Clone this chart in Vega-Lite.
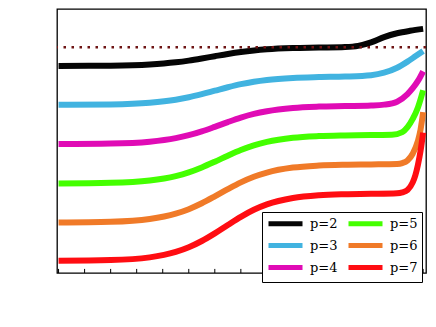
{"autosize":{"type":"none"},"width":369,"height":264,"padding":{"left":57,"top":9,"right":10,"bottom":54},"background":"white",
"config":{"view":{"stroke":"black","strokeWidth":1.3},"font":"DejaVu Serif"},
"datasets":{"curves":[
{"N":-14,"w":-1.638,"p":"p=2"},{"N":-12,"w":-1.627,"p":"p=2"},{"N":-10.5,"w":-1.587,"p":"p=2"},{"N":-9.5,"w":-1.513,"p":"p=2"},{"N":-9,"w":-1.455,"p":"p=2"},{"N":-8.5,"w":-1.383,"p":"p=2"},{"N":-8,"w":-1.304,"p":"p=2"},{"N":-7.5,"w":-1.227,"p":"p=2"},{"N":-7,"w":-1.16,"p":"p=2"},{"N":-6.5,"w":-1.108,"p":"p=2"},{"N":-6,"w":-1.07,"p":"p=2"},{"N":-5,"w":-1.028,"p":"p=2"},{"N":-4,"w":-1.01,"p":"p=2"},{"N":-3,"w":-0.99,"p":"p=2"},{"N":-2.5,"w":-0.95,"p":"p=2"},{"N":-2,"w":-0.83,"p":"p=2"},{"N":-1.5,"w":-0.65,"p":"p=2"},{"N":-1,"w":-0.52,"p":"p=2"},{"N":-0.5,"w":-0.435,"p":"p=2"},{"N":0,"w":-0.37,"p":"p=2"},
{"N":-14,"w":-2.968,"p":"p=3"},{"N":-12,"w":-2.953,"p":"p=3"},{"N":-10.5,"w":-2.896,"p":"p=3"},{"N":-9.5,"w":-2.793,"p":"p=3"},{"N":-9,"w":-2.709,"p":"p=3"},{"N":-8.5,"w":-2.603,"p":"p=3"},{"N":-8,"w":-2.485,"p":"p=3"},{"N":-7.5,"w":-2.367,"p":"p=3"},{"N":-7,"w":-2.261,"p":"p=3"},{"N":-6.5,"w":-2.177,"p":"p=3"},{"N":-6,"w":-2.115,"p":"p=3"},{"N":-5,"w":-2.046,"p":"p=3"},{"N":-4,"w":-2.017,"p":"p=3"},{"N":-3,"w":-2.0,"p":"p=3"},{"N":-2,"w":-1.955,"p":"p=3"},{"N":-1.5,"w":-1.87,"p":"p=3"},{"N":-1,"w":-1.7,"p":"p=3"},{"N":-0.6,"w":-1.49,"p":"p=3"},{"N":-0.3,"w":-1.31,"p":"p=3"},{"N":0,"w":-1.13,"p":"p=3"},
{"N":-14,"w":-4.307,"p":"p=4"},{"N":-12,"w":-4.29,"p":"p=4"},{"N":-10.5,"w":-4.227,"p":"p=4"},{"N":-9.5,"w":-4.108,"p":"p=4"},{"N":-9,"w":-4.007,"p":"p=4"},{"N":-8.5,"w":-3.875,"p":"p=4"},{"N":-8,"w":-3.72,"p":"p=4"},{"N":-7.5,"w":-3.558,"p":"p=4"},{"N":-7,"w":-3.406,"p":"p=4"},{"N":-6.5,"w":-3.28,"p":"p=4"},{"N":-6,"w":-3.186,"p":"p=4"},{"N":-5,"w":-3.075,"p":"p=4"},{"N":-4,"w":-3.029,"p":"p=4"},{"N":-3,"w":-3.01,"p":"p=4"},{"N":-2,"w":-2.99,"p":"p=4"},{"N":-1.5,"w":-2.96,"p":"p=4"},{"N":-1,"w":-2.86,"p":"p=4"},{"N":-0.6,"w":-2.6,"p":"p=4"},{"N":-0.4,"w":-2.4,"p":"p=4"},{"N":-0.2,"w":-2.15,"p":"p=4"},{"N":0,"w":-1.82,"p":"p=4"},
{"N":-14,"w":-5.657,"p":"p=5"},{"N":-12,"w":-5.635,"p":"p=5"},{"N":-10.5,"w":-5.555,"p":"p=5"},{"N":-9.5,"w":-5.404,"p":"p=5"},{"N":-9,"w":-5.277,"p":"p=5"},{"N":-8.5,"w":-5.109,"p":"p=5"},{"N":-8,"w":-4.913,"p":"p=5"},{"N":-7.5,"w":-4.707,"p":"p=5"},{"N":-7,"w":-4.515,"p":"p=5"},{"N":-6.5,"w":-4.355,"p":"p=5"},{"N":-6,"w":-4.236,"p":"p=5"},{"N":-5,"w":-4.095,"p":"p=5"},{"N":-4,"w":-4.037,"p":"p=5"},{"N":-3,"w":-4.013,"p":"p=5"},{"N":-2,"w":-4.0,"p":"p=5"},{"N":-1.2,"w":-3.99,"p":"p=5"},{"N":-0.8,"w":-3.9,"p":"p=5"},{"N":-0.6,"w":-3.73,"p":"p=5"},{"N":-0.4,"w":-3.45,"p":"p=5"},{"N":-0.2,"w":-3.06,"p":"p=5"},{"N":-0.1,"w":-2.78,"p":"p=5"},{"N":0,"w":-2.47,"p":"p=5"},
{"N":-14,"w":-6.996,"p":"p=6"},{"N":-12,"w":-6.97,"p":"p=6"},{"N":-10.5,"w":-6.874,"p":"p=6"},{"N":-9.5,"w":-6.692,"p":"p=6"},{"N":-9,"w":-6.538,"p":"p=6"},{"N":-8.5,"w":-6.336,"p":"p=6"},{"N":-8,"w":-6.1,"p":"p=6"},{"N":-7.5,"w":-5.852,"p":"p=6"},{"N":-7,"w":-5.62,"p":"p=6"},{"N":-6.5,"w":-5.428,"p":"p=6"},{"N":-6,"w":-5.284,"p":"p=6"},{"N":-5,"w":-5.114,"p":"p=6"},{"N":-4,"w":-5.044,"p":"p=6"},{"N":-3,"w":-5.016,"p":"p=6"},{"N":-2,"w":-5.005,"p":"p=6"},{"N":-1,"w":-4.99,"p":"p=6"},{"N":-0.8,"w":-4.96,"p":"p=6"},{"N":-0.6,"w":-4.87,"p":"p=6"},{"N":-0.4,"w":-4.64,"p":"p=6"},{"N":-0.2,"w":-4.2,"p":"p=6"},{"N":-0.1,"w":-3.82,"p":"p=6"},{"N":0,"w":-3.22,"p":"p=6"},
{"N":-14,"w":-8.3,"p":"p=7"},{"N":-12,"w":-8.277,"p":"p=7"},{"N":-10.5,"w":-8.185,"p":"p=7"},{"N":-9.5,"w":-8.0,"p":"p=7"},{"N":-9,"w":-7.84,"p":"p=7"},{"N":-8.5,"w":-7.625,"p":"p=7"},{"N":-8,"w":-7.363,"p":"p=7"},{"N":-7.5,"w":-7.077,"p":"p=7"},{"N":-7,"w":-6.799,"p":"p=7"},{"N":-6.5,"w":-6.559,"p":"p=7"},{"N":-6,"w":-6.375,"p":"p=7"},{"N":-5,"w":-6.154,"p":"p=7"},{"N":-4,"w":-6.058,"p":"p=7"},{"N":-3,"w":-6.023,"p":"p=7"},{"N":-2,"w":-6.01,"p":"p=7"},{"N":-1,"w":-5.99,"p":"p=7"},{"N":-0.8,"w":-5.96,"p":"p=7"},{"N":-0.6,"w":-5.88,"p":"p=7"},{"N":-0.4,"w":-5.62,"p":"p=7"},{"N":-0.3,"w":-5.38,"p":"p=7"},{"N":-0.2,"w":-5.02,"p":"p=7"},{"N":-0.1,"w":-4.55,"p":"p=7"},{"N":0,"w":-3.92,"p":"p=7"}],
"tickpos":[{"N":-14},{"N":-13},{"N":-12},{"N":-11},{"N":-10},{"N":-9},{"N":-8},{"N":-7},{"N":-6},{"N":-5},{"N":-4},{"N":-3},{"N":-2},{"N":-1},{"N":0}]},
"layer":[
{"data":{"name":"curves"},"mark":{"type":"line","strokeWidth":6,"interpolate":"monotone"},
"encoding":{
"x":{"field":"N","type":"quantitative","scale":{"domain":[-14.06,0.11],"nice":false,"zero":false},
"axis":{"values":[-14,-12,-10,-8,-6,-4,-2,0],"labelExpr":"datum.value < 0 ? '−\u2009' + abs(datum.value) : '0'","labelFontSize":15,"labelFont":"DejaVu Serif","labelColor":"black","labelPadding":6,"labelOverlap":false,"ticks":false,"domain":false,"grid":false,"title":"N","titleFont":"DejaVu Serif","titleFontStyle":"italic","titleFontWeight":"normal","titleFontSize":17,"titleColor":"black"}},
"y":{"field":"w","type":"quantitative","scale":{"domain":[-8.72,0.31],"nice":false,"zero":false},
"axis":{"values":[-8,-7,-6,-5,-4,-3,-2,-1,0],"tickCount":10,"labelExpr":"datum.value < 0 ? '−\u2009' + abs(datum.value) : '0'","labelFontSize":15,"labelFont":"DejaVu Serif","labelColor":"black","labelOverlap":false,"labelPadding":4,"ticks":false,"domain":false,"grid":false,"title":"ω","titleFont":"DejaVu Serif","titleFontWeight":"normal","titleFontSize":18,"titleColor":"black","titleAngle":0,"titleX":-42,"titleY":137}},
"color":{"field":"p","type":"nominal","scale":{"domain":["p=2","p=5","p=3","p=6","p=4","p=7"],"range":["#050505","#44ff00","#41b3e0","#f07a28","#e00bb5","#ff0d12"]},
"legend":{"orient":"none","legendX":205,"legendY":203,"columns":2,"direction":"horizontal","title":null,"symbolType":"M-1,0H5.8","symbolSize":100,"symbolStrokeWidth":5,"symbolFillColor":"transparent","labelFont":"DejaVu Serif","labelFontSize":13,"labelColor":"black","labelOffset":29,"columnPadding":0,"rowPadding":1,"padding":4,"strokeColor":"black","fillColor":"white"}}}},
{"data":{"name":"tickpos"},"mark":{"type":"rule","color":"black","strokeWidth":1},"encoding":{"x":{"field":"N","type":"quantitative","axis":null},"y":{"datum":-8.72,"axis":null},"y2":{"datum":-8.58}}},
{"data":{"values":[{"w":-1}]},"mark":{"type":"rule","color":"#6e1414","strokeWidth":2.5,"strokeDash":[2.5,5.5]},"encoding":{"y":{"field":"w","type":"quantitative","axis":null}}}
]}
